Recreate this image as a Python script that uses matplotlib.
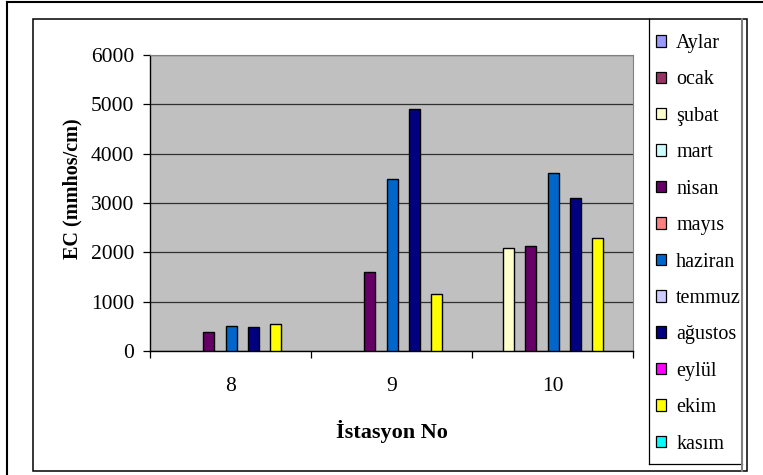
import numpy as np
import matplotlib
matplotlib.use("Agg")
import matplotlib.pyplot as plt
from matplotlib.patches import Patch, Rectangle
from matplotlib.lines import Line2D

# ---- data ----
stations = ["8", "9", "10"]
series_names = ["Aylar", "ocak", "şubat", "mart", "nisan", "mayıs", "haziran",
                "temmuz", "ağustos", "eylül", "ekim", "kasım"]
series_colors = ["#9999FF", "#993366", "#FFFFCC", "#CCFFFF", "#660066", "#FF8080",
                 "#0066CC", "#CCCCFF", "#000080", "#FF00FF", "#FFFF00", "#00FFFF"]
nan = np.nan
aylar   = [nan, nan, nan]
ocak    = [nan, nan, nan]
subat   = [nan, nan, 2090]
mart    = [nan, nan, nan]
nisan   = [390, 1600, 2120]
mayis   = [nan, nan, nan]
haziran = [510, 3480, 3600]
temmuz  = [nan, nan, nan]
agustos = [480, 4910, 3110]
eylul   = [nan, nan, nan]
ekim    = [550, 1160, 2300]
kasim   = [nan, nan, nan]
series_values = [aylar, ocak, subat, mart, nisan, mayis, haziran,
                 temmuz, agustos, eylul, ekim, kasim]
yticks = [0, 1000, 2000, 3000, 4000, 5000, 6000]

W, H = 763, 475
fig = plt.figure(figsize=(W / 100, H / 100), dpi=100)
fig.patch.set_facecolor("white")

def fx(x):
    return x / W

def fy(y):
    return 1 - y / H

serif = ["Liberation Serif", "DejaVu Serif"]

ax = fig.add_axes([fx(150), fy(351), fx(633) - fx(150), fy(55) - fy(351)])
ax.set_facecolor("#C0C0C0")

x = np.arange(len(stations))
n_bars = 11
slot = 1 / 14.44
start = -n_bars * slot / 2 + 0.004
for i, (name, vals, col) in enumerate(zip(series_names, series_values, series_colors)):
    if i == 0:
        continue
    pos = x + start + (i - 1 + 0.5) * slot
    ax.bar(pos, np.array(vals, dtype=float), width=slot, color=col,
           edgecolor="black", linewidth=1.0, zorder=3)

ax.set_xlim(-0.5, 2.5)
ax.set_ylim(0, 6000)
ax.set_yticks(yticks)
ax.set_yticklabels([str(v) for v in yticks], fontfamily=serif, fontsize=15.5)
ax.yaxis.grid(True, color="#303030", linewidth=0.9, zorder=1)
ax.set_axisbelow(True)

ax.set_xticks(x)
ax.set_xticklabels(stations, fontfamily=serif, fontsize=15.5)
ax.set_xticks([-0.5, 0.5, 1.5, 2.5], minor=True)
ax.tick_params(axis="x", which="major", length=0, pad=19)
ax.tick_params(axis="x", which="minor", length=5, width=0.9, direction="out", color="black")
ax.tick_params(axis="y", which="major", length=5, width=0.9, direction="out", pad=6.5, color="black")

for s in ["left", "bottom"]:
    ax.spines[s].set_color("black")
    ax.spines[s].set_linewidth(1.0)
for s in ["top", "right"]:
    ax.spines[s].set_color("#808080")
    ax.spines[s].set_linewidth(0.8)

ax.set_xlabel("İstasyon No", fontfamily=serif, fontsize=16, fontweight="bold", va="baseline")
ax.xaxis.set_label_coords(0.501, (351 - 438) / 296)
ax.set_ylabel("EC (mmhos/cm)", fontfamily=serif, fontsize=14.5, fontweight="bold", va="center")
ax.yaxis.set_label_coords((72 - 150) / 483, (351 - 189) / 296)

handles = [Patch(facecolor=c, edgecolor="black", linewidth=0.9) for c in series_colors]
leg = fig.legend(handles, series_names, loc="upper left",
                 bbox_to_anchor=(fx(656), fy(34)), frameon=False,
                 prop={"family": serif, "size": 14.5},
                 handlelength=0.5, handleheight=0.5, handletextpad=0.5,
                 labelspacing=0.865, borderpad=0.0, borderaxespad=0.0)

# frames
fig.add_artist(Line2D([fx(7), fx(7)], [fy(2), fy(475)], color="black", lw=1.5, transform=fig.transFigure))
fig.add_artist(Line2D([fx(7), fx(763)], [fy(2), fy(2)], color="black", lw=1.5, transform=fig.transFigure))
fig.add_artist(Rectangle((fx(33), fy(471)), fx(747) - fx(33), fy(19) - fy(471), fill=False,
                         edgecolor="black", lw=1.1, transform=fig.transFigure))
fig.add_artist(Line2D([fx(649), fx(649)], [fy(19), fy(464)], color="black", lw=0.9, transform=fig.transFigure))
fig.add_artist(Line2D([fx(649), fx(742)], [fy(464), fy(464)], color="black", lw=0.9, transform=fig.transFigure))
fig.add_artist(Line2D([fx(742), fx(742)], [fy(19), fy(471)], color="#808080", lw=1.5, transform=fig.transFigure))

fig.savefig("out.png", dpi=100)
